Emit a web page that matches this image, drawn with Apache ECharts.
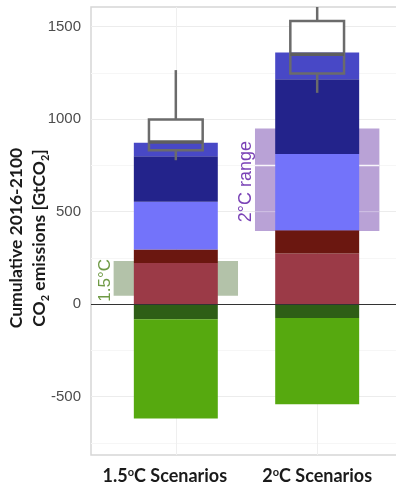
<!DOCTYPE html>
<html>
<head>
<meta charset="utf-8">
<script src="https://cdn.jsdelivr.net/npm/echarts@6/dist/echarts.min.js"></script>
<style>
  html, body { margin: 0; padding: 0; background: #fff; }
  #chart { width: 396px; height: 486px; }
</style>
</head>
<body>
<div id="chart"></div>
<script>
// Scenario groups and where they sit on the horizontal value axis
const categories = ['1.5°C Scenarios', '2°C Scenarios'];
const categoryPos = [1, 2];

// Stacked contributions (GtCO2), from zero upwards
const redLight = [223, 274];
const redDark = [73, 126];
const blueLight = [257, 411];
const blueDark = [247, 405];
const blueMid = [72, 144];
// Contributions below zero, from zero downwards
const greenDark = [-81, -74];
const greenBright = [-537, -467];

// Box plots: low whisker, q1, median, q3, high whisker
const boxStats = [
  [778, 832, 877, 998, 1265],
  [1142, 1247, 1350, 1531, 1700]
];

// Shaded budget ranges: low, high
const range15 = [45, 234];
const range2 = [396, 950];
const rangeLabels = ['1.5°C', '2°C range'];

// Axis ticks
const yTicks = [-500, 0, 500, 1000, 1500];
const yMinorTicks = [-750, -250, 250, 750, 1250];

const RANGE_HALF = 0.44;
const BOX_HALF = 0.19;
const BAR_HALF = 0.297;
const rangeFill = ['#b3c2a9', '#b9a2d6'];
const rangeText = ['#6f9a45', '#7a42b6'];
const rangeFont = [17, 18];

const stackLayers = [
  { values: redLight, color: '#9b3a47' },
  { values: redDark, color: '#6b1710' },
  { values: blueLight, color: '#7373fa' },
  { values: blueDark, color: '#23238b' },
  { values: blueMid, color: '#4848c6' },
  { values: greenDark, color: '#2e5e16' },
  { values: greenBright, color: '#56a90f' }
];

function labelText(name, i) {
  const parts = name.split('°');
  const last = i === 0 ? 'tl' : 't';
  return '{t|' + parts[0] + '}{s|o}{' + last + '|' + parts[1] + '}';
}

// Running totals so that each layer starts where the previous one of the same sign ended
const posBase = categoryPos.map(() => 0);
const negBase = categoryPos.map(() => 0);
const barSeries = stackLayers.map(layer => {
  const data = layer.values.map((v, i) => {
    const base = v >= 0 ? posBase[i] : negBase[i];
    const end = base + v;
    if (v >= 0) posBase[i] = end; else negBase[i] = end;
    return [categoryPos[i], base, end];
  });
  return {
    type: 'custom',
    z: 2,
    silent: true,
    encode: { x: 0, y: [1, 2] },
    data,
    renderItem(params, api) {
      const c = api.value(0);
      const a = api.coord([c - BAR_HALF, Math.max(api.value(1), api.value(2))]);
      const b = api.coord([c + BAR_HALF, Math.min(api.value(1), api.value(2))]);
      return { type: 'rect', shape: { x: a[0], y: a[1], width: b[0] - a[0], height: b[1] - a[1] },
        style: { fill: layer.color } };
    }
  };
});

const rangeSeries = {
  type: 'custom',
  z: 1,
  silent: true,
  encode: { x: 0, y: [1, 2] },
  data: [[categoryPos[0], range15[0], range15[1]], [categoryPos[1], range2[0], range2[1]]],
  renderItem(params, api) {
    const i = params.dataIndex;
    const c = api.value(0), lo = api.value(1), hi = api.value(2);
    const p0 = api.coord([c - RANGE_HALF, hi]);
    const p1 = api.coord([c + RANGE_HALF, lo]);
    const children = [{
      type: 'rect',
      shape: { x: p0[0], y: p0[1], width: p1[0] - p0[0], height: p1[1] - p0[1] },
      style: { fill: rangeFill[i] }
    }];
    yMinorTicks.filter(v => v > lo && v < hi).forEach(v => {
      const y = api.coord([c, v])[1];
      children.push({ type: 'line', shape: { x1: p0[0], y1: y, x2: p1[0], y2: y },
        style: { stroke: 'rgba(255,255,255,0.9)', lineWidth: 1.5 } });
    });
    yTicks.filter(v => v > lo && v < hi).forEach(v => {
      const y = api.coord([c, v])[1];
      children.push({ type: 'line', shape: { x1: p0[0], y1: y, x2: p1[0], y2: y },
        style: { stroke: 'rgba(255,255,255,0.35)', lineWidth: 1 } });
    });
    const fs = rangeFont[i];
    children.push({
      type: 'text',
      x: p0[0] - fs * 0.5,
      y: (p0[1] + p1[1]) / 2 + 2,
      rotation: Math.PI / 2,
      style: {
        text: rangeLabels[i],
        fill: rangeText[i],
        font: fs + 'px "Liberation Sans", Arial, sans-serif',
        align: 'center',
        verticalAlign: 'middle'
      }
    });
    return { type: 'group', children };
  }
};

const boxData = boxStats.map((s, i) => [categoryPos[i]].concat(s));

// White box body hides the grid, sits under the bars
const boxFillSeries = {
  type: 'custom',
  z: 1,
  silent: true,
  encode: { x: 0, y: [1, 2, 3, 4, 5] },
  data: boxData,
  renderItem(params, api) {
    const c = api.value(0);
    const a = api.coord([c - BOX_HALF, api.value(4)]);
    const b = api.coord([c + BOX_HALF, api.value(2)]);
    return { type: 'rect', shape: { x: a[0], y: a[1], width: b[0] - a[0], height: b[1] - a[1] },
      style: { fill: '#ffffff' } };
  }
};

// Box outline, median and whiskers drawn over the bars
const boxSeries = {
  type: 'custom',
  z: 3,
  silent: true,
  encode: { x: 0, y: [1, 2, 3, 4, 5] },
  data: boxData,
  renderItem(params, api) {
    const c = api.value(0);
    const top = params.coordSys.y;
    const a = api.coord([c - BOX_HALF, api.value(4)]);
    const b = api.coord([c + BOX_HALF, api.value(2)]);
    const xc = api.coord([c, 0])[0];
    const yMed = api.coord([c, api.value(3)])[1];
    const yLow = api.coord([c, api.value(1)])[1];
    const yHigh = Math.max(api.coord([c, api.value(5)])[1], top);
    const ls = { stroke: '#6b6b6b', lineWidth: 2.5 };
    return {
      type: 'group',
      children: [
        { type: 'line', shape: { x1: xc, y1: yHigh, x2: xc, y2: a[1] }, style: ls },
        { type: 'line', shape: { x1: xc, y1: b[1], x2: xc, y2: yLow }, style: ls },
        { type: 'rect', shape: { x: a[0], y: a[1], width: b[0] - a[0], height: b[1] - a[1] },
          style: { fill: 'none', stroke: '#6b6b6b', lineWidth: 2.5 } },
        { type: 'line', shape: { x1: a[0], y1: yMed, x2: b[0], y2: yMed },
          style: { stroke: '#5e5e5e', lineWidth: 3.5 } }
      ]
    };
  },
  markLine: {
    silent: true,
    symbol: 'none',
    label: { show: false },
    lineStyle: { color: '#333', width: 1, type: 'solid' },
    data: [{ yAxis: 0 }]
  }
};

const boldFont = 'Lato, "Open Sans", sans-serif';

const option = {
  animation: false,
  grid: {
    left: 91, right: -6, top: 7, bottom: 31,
    outerBoundsMode: 'none',
    containLabel: false,
    show: true, borderColor: '#d6d6d6', borderWidth: 1.5
  },
  xAxis: {
    type: 'value',
    min: 0.4,
    max: 2.6,
    axisLine: { show: false },
    axisTick: { show: false, customValues: categoryPos },
    splitLine: { show: true, lineStyle: { color: '#efefef', width: 1 } },
    axisLabel: {
      customValues: categoryPos,
      margin: 12,
      formatter: v => {
        const i = categoryPos.indexOf(v);
        return i < 0 ? '' : labelText(categories[i], i);
      },
      rich: {
        t: { fontFamily: boldFont, fontWeight: 'bold', fontSize: 18, color: '#1a1a1a' },
        tl: { fontFamily: boldFont, fontWeight: 'bold', fontSize: 18, color: '#1a1a1a', padding: [0, 22, 0, 0] },
        s: { fontFamily: boldFont, fontWeight: 'bold', fontSize: 11, color: '#1a1a1a', verticalAlign: 'top', padding: [0, 0, 6, 0] }
      }
    }
  },
  yAxis: [{
    type: 'value',
    min: -815,
    max: 1606,
    axisLine: { show: false },
    axisTick: { show: false, customValues: yTicks },
    splitLine: { show: true, lineStyle: { color: '#ececec', width: 1 } },
    axisLabel: {
      customValues: yTicks,
      formatter: v => String(v),
      margin: 10,
      fontSize: 15,
      color: '#4d4d4d',
      fontFamily: '"Liberation Sans", Arial, sans-serif'
    },
    name: 'Cumulative 2016-2100\nCO{sub|2} emissions [GtCO{sub|2}]',
    nameLocation: 'middle',
    nameRotate: 90,
    nameGap: 40,
    nameMoveOverlap: false,
    nameTextStyle: {
      fontFamily: boldFont,
      fontWeight: 'bold',
      fontSize: 17.5,
      color: '#1a1a1a',
      lineHeight: 23,
      padding: [0, 14, 0, 0],
      rich: {
        sub: { fontFamily: boldFont, fontWeight: 'bold', fontSize: 11, color: '#1a1a1a', verticalAlign: 'bottom', lineHeight: 23 }
      }
    }
  }, {
    type: 'value',
    min: -815,
    max: 1606,
    axisLine: { show: false },
    axisLabel: { show: false },
    axisTick: { show: false, customValues: yMinorTicks },
    splitLine: { show: true, lineStyle: { color: '#f6f6f6', width: 1 } }
  }],
  series: [rangeSeries, boxFillSeries].concat(barSeries, [boxSeries])
};

const chart = echarts.init(document.getElementById('chart'), null, { renderer: 'canvas' });
chart.setOption(option);
</script>
</body>
</html>
